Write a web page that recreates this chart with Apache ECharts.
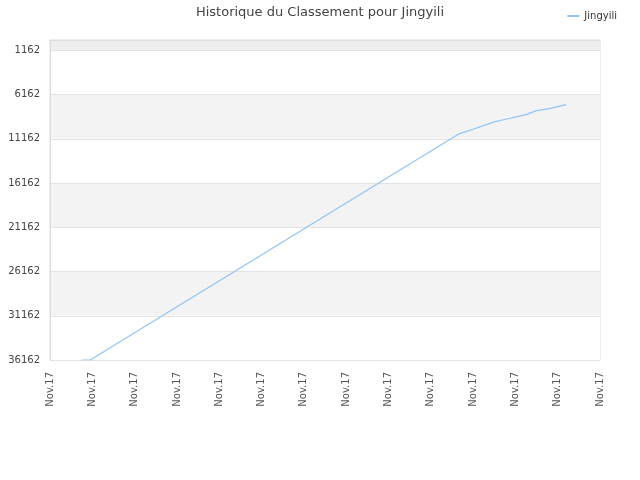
<!DOCTYPE html>
<html>
<head>
<meta charset="utf-8">
<script src="https://cdn.jsdelivr.net/npm/echarts@6/dist/echarts.min.js"></script>
<style>html,body{margin:0;padding:0;background:#fff}#c{width:640px;height:480px}</style>
</head>
<body>
<div id="c"></div>
<script>
// tick labels on the x axis (one every 20 categories)
var xTickLabels = ['Nov.17','Nov.17','Nov.17','Nov.17','Nov.17','Nov.17','Nov.17','Nov.17','Nov.17','Nov.17','Nov.17','Nov.17','Nov.17','Nov.17'];
var stepsPerTick = 20;
// y tick values (rank, inverted axis)
var yTickValues = [1162, 6162, 11162, 16162, 21162, 26162, 31162, 36162];
// observed points: category index -> rank
var pointIndex = [15, 19, 193, 200, 210, 216, 225, 230, 236, 244];
var pointRank  = [36162, 36162, 10643, 10090, 9250, 8926, 8430, 7988, 7750, 7300];

var categories = [];
for (var i = 0; i <= (xTickLabels.length - 1) * stepsPerTick; i++) {
  categories.push(i % stepsPerTick === 0 ? xTickLabels[i / stepsPerTick] : '');
}
var seriesData = categories.map(function(){ return null; });
pointIndex.forEach(function(idx, k){ seriesData[idx] = pointRank[k]; });

var chart = echarts.init(document.getElementById('c'));
chart.setOption({
  animation: false,
  textStyle: { fontFamily: 'DejaVu Sans' },
  title: {
    text: 'Historique du Classement pour Jingyili',
    left: 'center', top: 1,
    textStyle: { fontSize: 13, fontWeight: 'normal', color: '#444', fontFamily: 'DejaVu Sans' }
  },
  legend: {
    right: 18, top: 6,
    icon: 'rect',
    itemWidth: 12, itemHeight: 2,
    textStyle: { fontSize: 10, color: '#333' },
    data: ['Jingyili']
  },
  grid: { left: 50, right: 40, top: 40, bottom: 120, show: true, borderColor: '#ddd', borderWidth: 1, backgroundColor: 'transparent' },
  xAxis: {
    type: 'category',
    boundaryGap: false,
    data: categories,
    axisLine: { show: true, lineStyle: { color: '#ddd' } },
    axisTick: { show: false },
    axisLabel: { interval: stepsPerTick - 1, rotate: 90, fontSize: 10, color: '#555', margin: 12 },
    splitLine: { show: false }
  },
  yAxis: {
    type: 'value',
    inverse: true,
    min: 0,
    max: 36162,
    axisLine: { show: true, lineStyle: { color: '#ddd' } },
    axisTick: { show: false, customValues: [0].concat(yTickValues) },
    axisLabel: { customValues: yTickValues, fontSize: 10, color: '#444', margin: 10, formatter: function(v){ return String(v); } },
    splitLine: { show: true, lineStyle: { color: '#e3e3e3' } },
    splitArea: { show: true, areaStyle: { color: ['#eeeeee', '#ffffff', '#f3f3f3', '#ffffff', '#f3f3f3', '#ffffff', '#f3f3f3', '#ffffff'] } }
  },
  series: [{
    name: 'Jingyili',
    type: 'line',
    data: seriesData,
    connectNulls: true,
    symbol: 'none',
    lineStyle: { color: '#90c4f5', width: 1.2 },
    itemStyle: { color: '#90c4f5' }
  }]
});
</script>
</body>
</html>
